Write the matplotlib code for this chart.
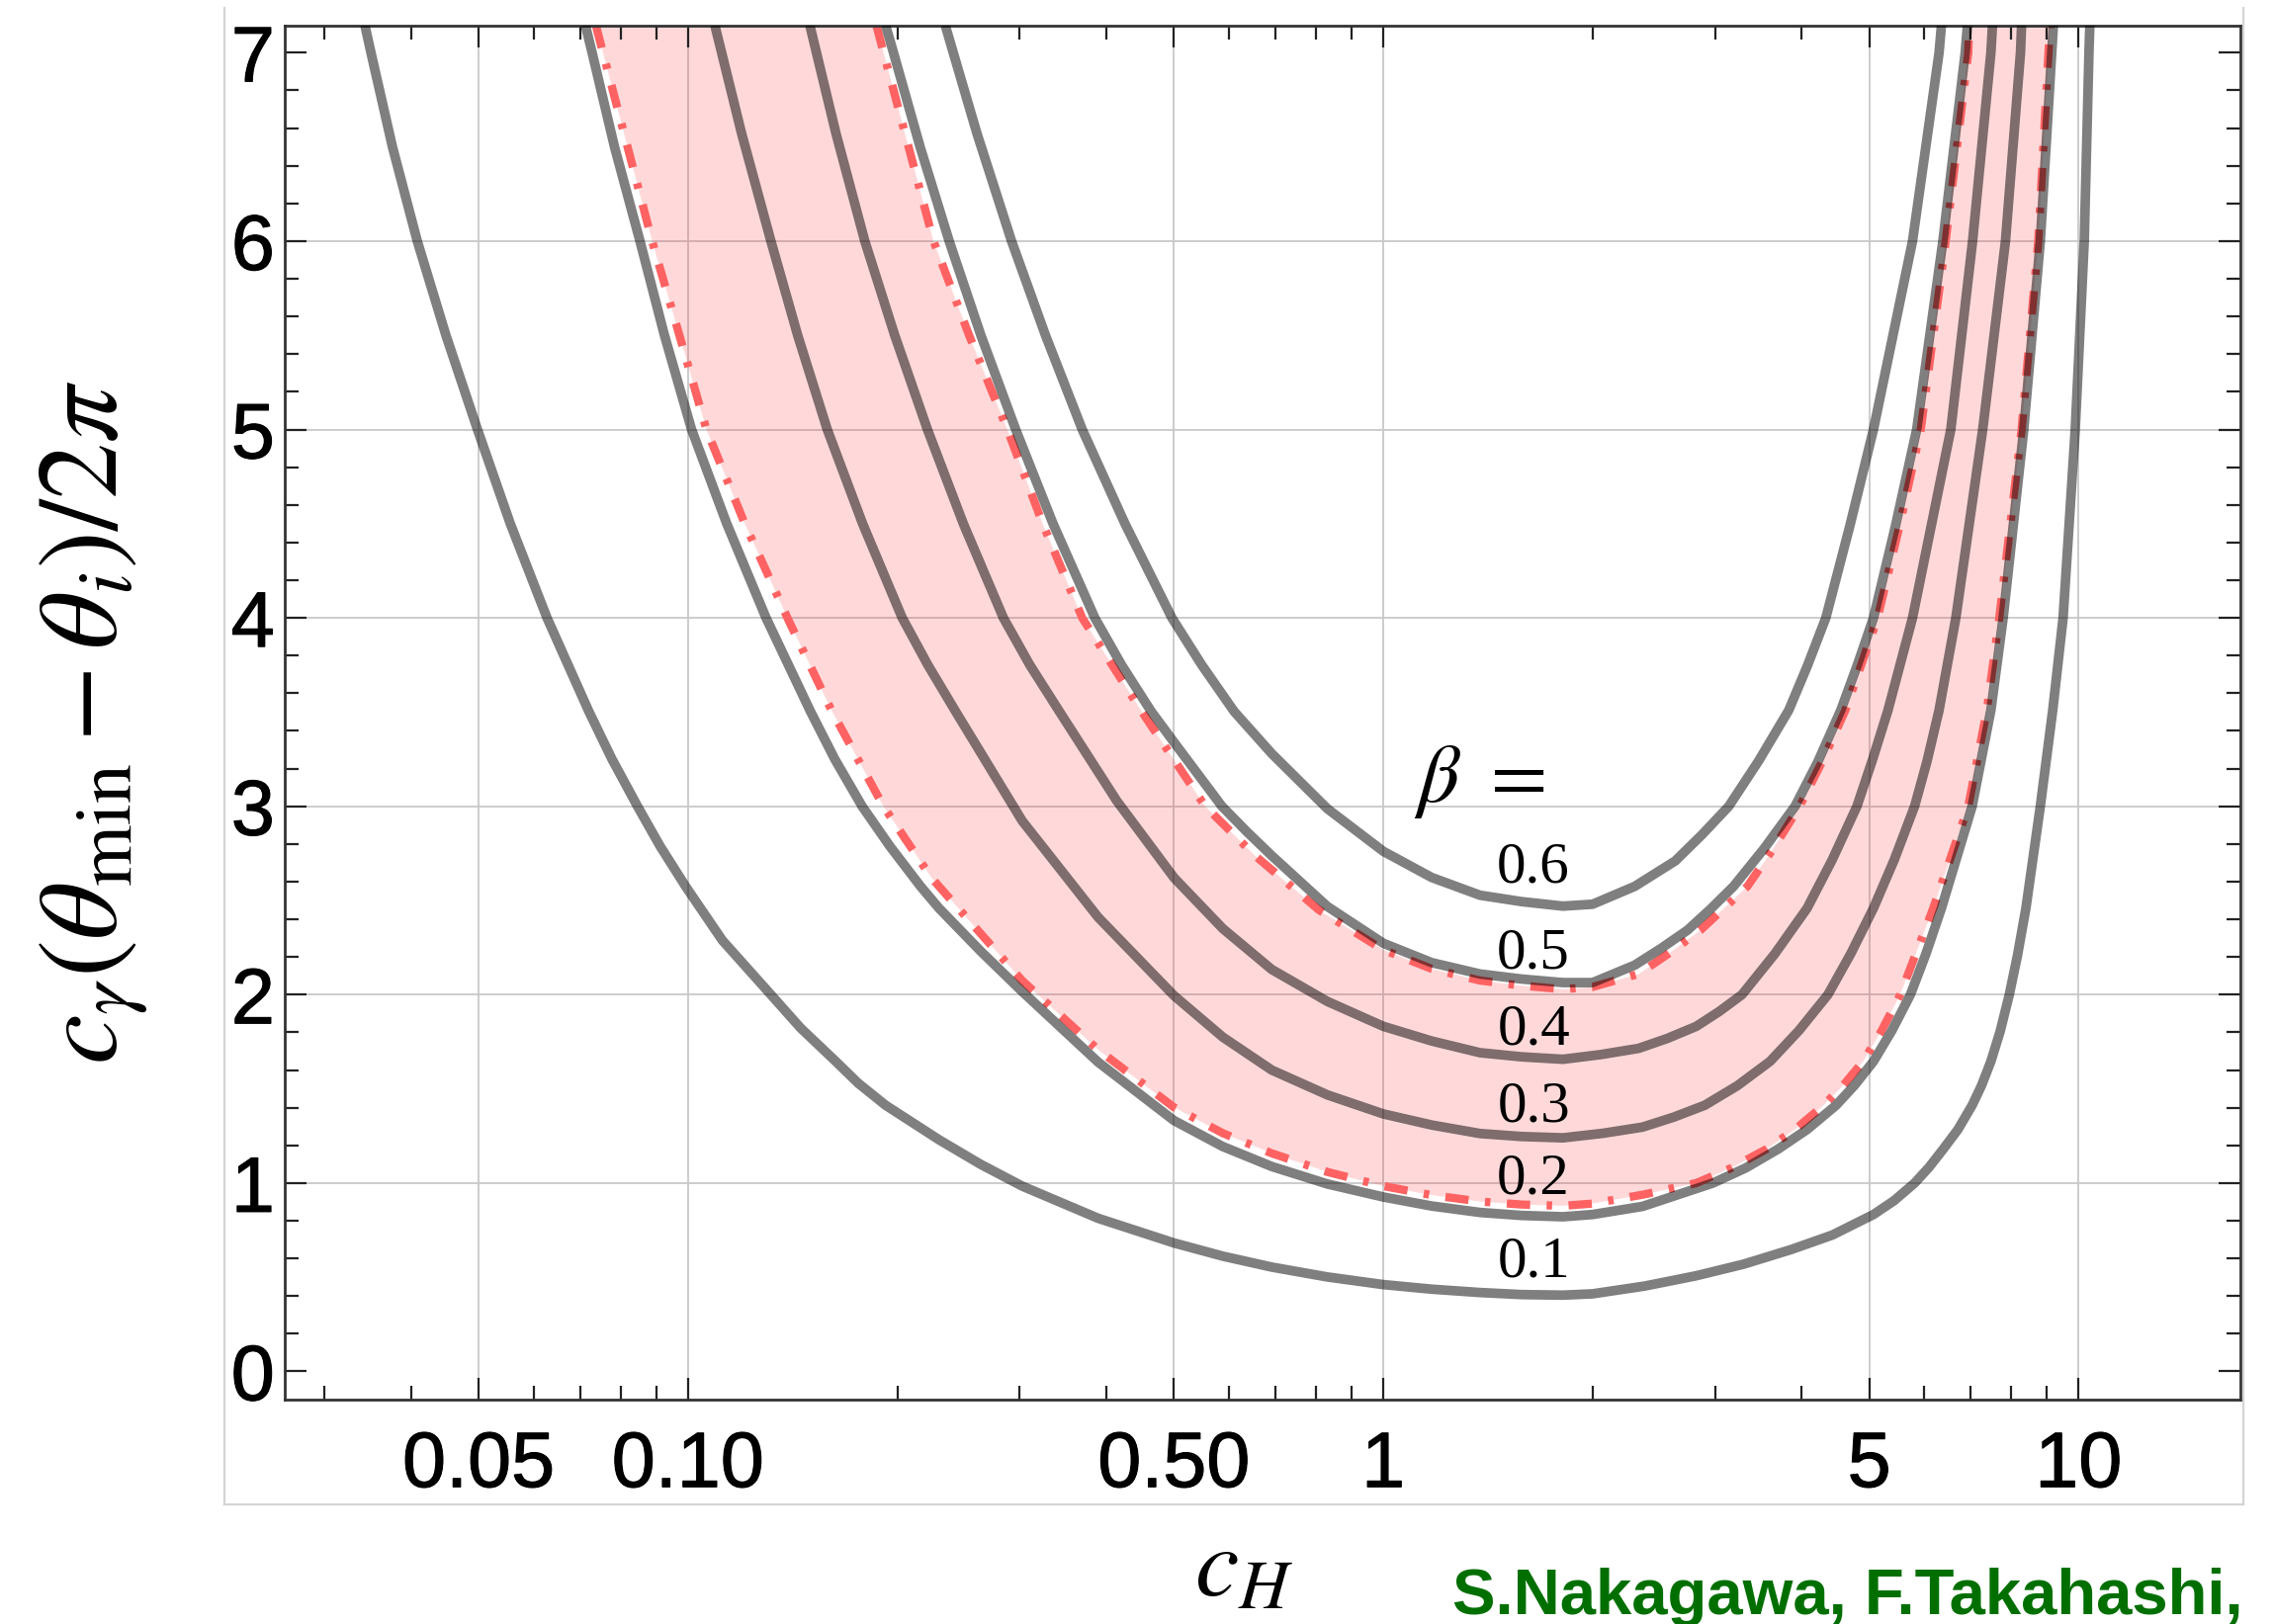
import matplotlib
matplotlib.use('Agg')
import matplotlib.pyplot as plt
from matplotlib.ticker import FixedLocator, FixedFormatter, NullFormatter
from matplotlib.lines import Line2D
import matplotlib.patheffects as pe

plt.rcParams['mathtext.fontset'] = 'stix'
plt.rcParams['font.family'] = ['Liberation Sans', 'DejaVu Sans']
plt.rcParams['lines.scale_dashes'] = False

# ---- data (x = c_H, y = c_gamma(theta_min - theta_i)/2pi) ----
b01_x = [0.0343, 0.035, 0.03758, 0.0408, 0.04486, 0.0498, 0.05552, 0.0627, 0.072, 0.0777, 0.0846,
         0.0912, 0.0992, 0.1121, 0.1316, 0.1452, 0.1631, 0.1757, 0.1924, 0.2296, 0.2634, 0.3024,
         0.3889, 0.5, 0.5876, 0.691, 0.831, 1.0, 1.174, 1.377, 1.58, 1.813, 2.0, 2.375, 2.82, 3.299,
         3.86, 4.424, 5.07, 5.43, 5.81, 6.095, 6.39, 6.706, 7.03, 7.25, 7.48, 7.713, 7.95, 8.17,
         8.40, 8.81, 9.18, 9.50, 9.89, 10.19, 10.35, 10.38]
b01_y = [7.146, 7.0, 6.5, 6.0, 5.5, 5.0, 4.5, 4.0, 3.504, 3.252, 3.0,
         2.7875, 2.575, 2.2875, 2.0, 1.823, 1.646, 1.53, 1.413, 1.23, 1.100, 0.984,
         0.813, 0.682, 0.612, 0.554, 0.5015, 0.461, 0.4366, 0.419, 0.408, 0.405, 0.412, 0.453, 0.508,
         0.5695, 0.647, 0.724, 0.833, 0.907, 1.0, 1.084, 1.181, 1.284, 1.413, 1.517, 1.646, 1.805,
         2.0, 2.21, 2.459, 3.0, 3.51, 4.0, 5.0, 6.0, 7.0, 7.146]

b02_x = [0.0712, 0.0728, 0.0784, 0.0853, 0.0925, 0.1012, 0.1137, 0.1295, 0.150, 0.1626, 0.178,
         0.1952, 0.216, 0.2296, 0.2634, 0.3024, 0.3889, 0.5, 0.5876, 0.691, 0.831, 1.0, 1.174,
         1.377, 1.58, 1.813, 2.0, 2.36, 2.98, 3.32, 3.70, 4.072, 4.48, 4.764, 5.07, 5.39, 5.73,
         6.03, 6.35, 7.03, 7.48, 7.79, 8.34, 8.81, 9.15, 9.20]
b02_y = [7.146, 7.0, 6.5, 6.0, 5.5, 5.0, 4.5, 4.0, 3.504, 3.25, 3.0,
         2.7875, 2.575, 2.459, 2.232, 2.017, 1.642, 1.332, 1.194, 1.088, 0.995, 0.926, 0.878,
         0.844, 0.828, 0.821, 0.833, 0.876, 1.0, 1.08, 1.181, 1.285, 1.413, 1.52, 1.646, 1.81, 2.0,
         2.215, 2.459, 3.0, 3.51, 4.0, 5.0, 6.0, 7.0, 7.146]

b03_x = [0.1093, 0.1194, 0.1316, 0.1438, 0.1586, 0.1783, 0.2033, 0.2213, 0.242, 0.3024, 0.3889,
         0.5, 0.5876, 0.691, 0.831, 1.0, 1.174, 1.377, 1.58, 1.813, 2.069, 2.36, 2.617, 2.90,
         3.231, 3.60, 3.962, 4.36, 4.702, 5.07, 5.43, 5.81, 6.05, 6.30, 6.66, 7.28, 7.85, 8.25, 8.28]
b03_y = [7.146, 6.573, 6.0, 5.5, 5.0, 4.5, 4.0, 3.75, 3.51, 2.923, 2.411,
         1.995, 1.775, 1.60, 1.468, 1.367, 1.308, 1.263, 1.247, 1.24, 1.264, 1.297, 1.35, 1.413,
         1.517, 1.646, 1.81, 2.0, 2.217, 2.459, 2.715, 3.0, 3.235, 3.51, 4.0, 5.0, 6.0, 7.0, 7.146]

b04_x = [0.1497, 0.1632, 0.1796, 0.1983, 0.221, 0.2489, 0.2842, 0.3102, 0.342, 0.4135, 0.5, 0.5876,
         0.691, 0.831, 1.0, 1.174, 1.377, 1.58, 1.813, 2.055, 2.33, 2.563, 2.82, 3.04, 3.28, 3.654,
         4.07, 4.42, 4.80, 5.05, 5.32, 5.77, 6.55, 7.04, 7.48, 7.52]
b04_y = [7.146, 6.573, 6.0, 5.5, 5.0, 4.5, 4.0, 3.75, 3.504, 3.03, 2.621, 2.351,
         2.134, 1.964, 1.832, 1.754, 1.692, 1.670, 1.657, 1.682, 1.715, 1.768, 1.832, 1.91, 2.0, 2.215,
         2.459, 2.714, 3.0, 3.243, 3.51, 4.0, 5.0, 6.0, 7.0, 7.146]

b05_x = [0.1924, 0.1975, 0.2157, 0.2375, 0.2638, 0.296, 0.335, 0.3847, 0.4203, 0.4636, 0.5, 0.586,
         0.6365, 0.691, 0.831, 1.0, 1.174, 1.377, 1.58, 1.813, 2.0, 2.30, 2.51, 2.74, 2.957, 3.19,
         3.532, 3.91, 4.218, 4.55, 4.802, 5.07, 5.447, 5.85, 6.38, 6.87, 6.92]
b05_y = [7.146, 7.0, 6.5, 6.0, 5.5, 5.0, 4.5, 4.0, 3.75, 3.504, 3.34, 3.0,
         2.865, 2.738, 2.468, 2.273, 2.17, 2.11, 2.083, 2.064, 2.064, 2.157, 2.246, 2.343, 2.455, 2.575,
         2.777, 3.0, 3.237, 3.51, 3.746, 4.0, 4.48, 5.0, 6.0, 7.0, 7.146]

b06_x = [0.2344, 0.2603, 0.292, 0.3267, 0.369, 0.4251, 0.4966, 0.5477, 0.61, 0.691, 0.831, 1.0,
         1.174, 1.377, 1.58, 1.813, 2.0, 2.30, 2.63, 2.873, 3.14, 3.469, 3.83, 4.073, 4.33, 4.686,
         5.07, 5.77, 6.30, 6.35]
b06_y = [7.146, 6.573, 6.0, 5.5, 5.0, 4.5, 4.0, 3.752, 3.504, 3.28, 2.987, 2.761,
         2.622, 2.528, 2.494, 2.47, 2.48, 2.575, 2.71, 2.849, 3.0, 3.243, 3.51, 3.745, 4.0, 4.485,
         5.0, 6.0, 7.0, 7.146]

# red dash-dot boundaries of the shaded band
low_x = [0.0737, 0.0888, 0.0972, 0.1063, 0.1207, 0.139, 0.1608, 0.191, 0.224, 0.3024, 0.3889, 0.5,
         0.5876, 0.691, 0.831, 1.0, 1.174, 1.377, 1.58, 1.813, 2.0, 2.375, 2.82, 3.168, 3.56, 3.913,
         4.30, 4.59, 4.90, 5.21, 5.54, 6.18, 6.94, 7.38, 7.69, 8.28, 8.75, 9.05, 9.10]
low_y = [7.146, 6.0, 5.5, 5.0, 4.5, 4.0, 3.51, 3.0, 2.62, 2.075, 1.708, 1.402,
         1.265, 1.158, 1.059, 0.984, 0.936, 0.902, 0.886, 0.879, 0.891, 0.94, 1.0, 1.08, 1.181, 1.285,
         1.413, 1.52, 1.646, 1.81, 2.0, 2.459, 3.0, 3.51, 4.0, 5.0, 6.0, 7.0, 7.146]
up_x = [0.1866, 0.2255, 0.2537, 0.288, 0.3237, 0.369, 0.448, 0.5545, 0.654, 0.809, 1.0, 1.174,
        1.377, 1.58, 1.813, 2.0, 2.33, 2.582, 2.86, 3.34, 3.641, 3.97, 4.282, 4.62, 5.14, 5.52,
        5.93, 6.44, 6.94, 6.96]
up_y = [7.146, 6.0, 5.5, 5.0, 4.5, 4.0, 3.51, 3.0, 2.738, 2.448, 2.238, 2.137,
        2.075, 2.048, 2.029, 2.041, 2.11, 2.222, 2.343, 2.575, 2.777, 3.0, 3.24, 3.51, 4.0, 4.48,
        5.0, 6.0, 7.0, 7.146]

beta_labels = ['0.1', '0.2', '0.3', '0.4', '0.5', '0.6']
beta_label_x = 1.645
beta_label_y = [0.577, 1.019, 1.402, 1.808, 2.215, 2.668]

x_major = [0.05, 0.1, 0.5, 1, 5, 10]
x_major_labels = ['0.05', '0.10', '0.50', '1', '5', '10']
x_minor = [0.03, 0.04, 0.06, 0.07, 0.08, 0.09, 0.2, 0.3, 0.4, 0.6, 0.7, 0.8, 0.9,
           2, 3, 4, 6, 7, 8, 9]
y_major = [0, 1, 2, 3, 4, 5, 6, 7]
y_minor = [v / 5 for v in range(1, 36) if v % 5 != 0]
y_grid = [1, 2, 3, 4, 5, 6]

# ---- figure ----
fig = plt.figure(figsize=(23, 16.43), dpi=100)
ax = fig.add_axes([0.12504, 0.13835, 0.86026, 0.84601])
ax.set_xscale('log')
ax.set_xlim(0.02627, 17.1)
ax.set_ylim(-0.148, 7.145)

for gx in x_major:
    ax.axvline(gx, color='#c8c8c8', lw=1.3, zorder=0.5)
for gy in y_grid:
    ax.axhline(gy, color='#c8c8c8', lw=1.3, zorder=0.5)

band_x = low_x + up_x[::-1]
band_y = low_y + up_y[::-1]
ax.fill(band_x, band_y, color=(1.0, 0.0, 0.05), alpha=0.15, lw=0, zorder=1)

red_style = dict(color='#ff6262', lw=6, linestyle=(0, (17, 12, 4, 12)), zorder=2)
ax.plot(low_x, low_y, **red_style)
ax.plot(up_x, up_y, **red_style)

for xs, ys in [(b01_x, b01_y), (b02_x, b02_y), (b03_x, b03_y),
               (b04_x, b04_y), (b05_x, b05_y), (b06_x, b06_y)]:
    ax.plot(xs, ys, color='black', alpha=0.5, lw=7, solid_capstyle='butt',
            solid_joinstyle='round', zorder=3)

for lab, ly in zip(beta_labels, beta_label_y):
    ax.text(beta_label_x, ly, lab, fontsize=42.5, family='Liberation Serif',
            ha='center', va='center', zorder=5)
ax.text(1.377, 3.13, r'$\beta\ =$', fontsize=60, ha='center', va='center', zorder=5)

ax.xaxis.set_major_locator(FixedLocator(x_major))
ax.xaxis.set_major_formatter(FixedFormatter(x_major_labels))
ax.xaxis.set_minor_locator(FixedLocator(x_minor))
ax.xaxis.set_minor_formatter(NullFormatter())
ax.yaxis.set_major_locator(FixedLocator(y_major))
ax.yaxis.set_minor_locator(FixedLocator(y_minor))
ax.yaxis.set_minor_formatter(NullFormatter())

ax.tick_params(which='both', direction='in', top=True, right=True,
               color='#222222', width=1.6)
ax.tick_params(which='major', length=16)
ax.tick_params(which='minor', length=10)
ax.tick_params(axis='x', which='major', pad=22, labelsize=57)
ax.tick_params(axis='y', which='major', pad=7, labelsize=57)
for lbl in ax.get_xticklabels() + ax.get_yticklabels():
    lbl.set_path_effects([pe.withStroke(linewidth=0.8, foreground='black')])
for sp in ax.spines.values():
    sp.set_color('#333333')
    sp.set_linewidth(2)

# outer light frame
frame_col = '#d4d4d4'
fig.add_artist(Line2D([0.0987, 0.0987], [0.0736, 0.995], transform=fig.transFigure,
                      color=frame_col, lw=1.6))
fig.add_artist(Line2D([0.0987, 0.9866], [0.0736, 0.0736], transform=fig.transFigure,
                      color=frame_col, lw=1.6))
fig.add_artist(Line2D([0.9866, 0.9866], [0.0736, 0.995], transform=fig.transFigure,
                      color=frame_col, lw=1.6))

fig.text(0.041, 0.555, r'$c_\gamma(\theta_{\mathrm{min}}-\theta_i)/2\pi$', rotation=90,
         ha='center', va='center', fontsize=82)
fig.text(0.525, 0.017, r'$c_H$', fontsize=72, ha='left', va='baseline')
fig.text(0.6387, 0.006, 'S.Nakagawa, F.Takahashi,', color='#006f00', fontsize=47,
         fontweight='bold', family='Liberation Sans', ha='left', va='baseline')

fig.savefig('out.png', dpi=100)
